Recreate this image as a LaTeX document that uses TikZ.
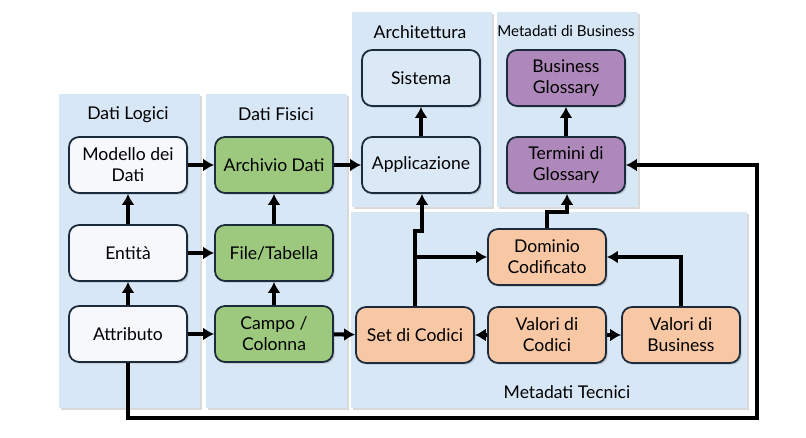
\documentclass[tikz,border=0pt]{standalone}
\usepackage{fontspec}
\setmainfont{Lato}
\usetikzlibrary{arrows.meta,shadows}
\definecolor{pan}{HTML}{D7E7F6}
\definecolor{edge}{HTML}{1C2B3B}
\definecolor{logi}{HTML}{F6F8FB}
\definecolor{fisi}{HTML}{9CC97D}
\definecolor{arch}{HTML}{DBE9F7}
\definecolor{busi}{HTML}{AE88BB}
\definecolor{tecn}{HTML}{F8C7A3}
\begin{document}
\begin{tikzpicture}
			[x=0.02cm, y=-0.02cm, font=\fontsize{10}{12}\selectfont,
			box/.style={draw=edge, line width=1pt, rounded corners=0.2cm, minimum width=2.36cm, minimum height=1.12cm, align=center, drop shadow={shadow xshift=1pt, shadow yshift=-1pt, opacity=0.35}},
			panel/.style={fill=pan, drop shadow={shadow xshift=1.2pt, shadow yshift=-1.2pt, opacity=0.3}},
			arr/.style={line width=2.3pt, -{Latex[length=0.22cm, width=0.26cm]}}]
			\useasboundingbox (0,0) rectangle (806,438);
			% pannelli
			\path[panel] (59,94) rectangle (200,408);
			\path[panel] (206,94) rectangle (347,408);
			\path[panel] (352,12) rectangle (492,207);
			\path[panel] (497,12) rectangle (638,207);
			\path[panel] (351,212) rectangle (747,408);
			\node (pl) at (128,115) {Dati Logici};
			\node (pf) at (276,114) {Dati Fisici};
			\node (pa) at (420,32) {Architettura};
			\node[font=\fontsize{8.6}{10}\selectfont] (pb) at (566,31) {Metadati di Business};
			\node (pt) at (567,392) {Metadati Tecnici};
			% dati logici
			\node[box, fill=logi] (mod) at (128,165) {Modello dei\\Dati};
			\node[box, fill=logi] (ent) at (128,253) {Entità};
			\node[box, fill=logi] (att) at (128,334) {Attributo};
			% dati fisici
			\node[box, fill=fisi] (arc) at (274,165) {Archivio Dati};
			\node[box, fill=fisi] (fil) at (274,253) {File/Tabella};
			\node[box, fill=fisi] (cam) at (274,334) {Campo /\\Colonna};
			% architettura
			\node[box, fill=arch] (sis) at (421,78) {Sistema};
			\node[box, fill=arch] (app) at (421,165) {Applicazione};
			% business
			\node[box, fill=busi] (bg) at (566,78) {Business\\Glossary};
			\node[box, fill=busi] (ter) at (566,165) {Termini di\\Glossary};
			% tecnici
			\node[box, fill=tecn] (dom) at (547,257) {Dominio\\Codificato};
			\node[box, fill=tecn] (set) at (415,335) {Set di Codici};
			\node[box, fill=tecn] (vc) at (547,335) {Valori di\\Codici};
			\node[box, fill=tecn] (vb) at (681,335) {Valori di\\Business};
			\coordinate (j1) at (422,231);
			\coordinate (j2) at (567,212);
			\coordinate (c1) at (757,418);
			% frecce
			\draw[arr] (att) -- (ent);
			\draw[arr] (ent) -- (mod);
			\draw[arr] (cam) -- (fil);
			\draw[arr] (fil) -- (arc);
			\draw[arr] (mod) -- (arc);
			\draw[arr] (ent) -- (fil);
			\draw[arr] (att) -- (cam);
			\draw[arr] (arc) -- (app);
			\draw[arr] (cam) -- (set);
			\draw[arr] (app) -- (sis);
			\draw[arr] (ter) -- (bg);
			\draw[arr] (set.north) |- (j1) -- (app.south -| j1);
			\draw[arr] (set.north |- dom.west) -- (dom.west);
			\draw[arr] (dom.north) |- (j2) -- (ter.south -| j2);
			\draw[arr] (vc) -- (set);
			\draw[arr] (vc) -- (vb);
			\draw[arr] (vb.north) |- (dom.east);
			\draw[arr] (att.south) |- (c1) |- (ter.east);
			\end{tikzpicture}
\end{document}
